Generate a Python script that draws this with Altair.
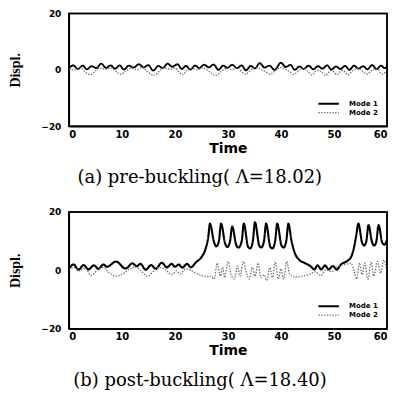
import altair as alt
import pandas as pd

# ---------------- (a) pre-buckling ----------------
T_A1 = [0, 0.8, 1.7, 2.6, 3.4, 4.3, 5.2, 6.1, 7.0, 7.9, 8.7, 9.6, 10.4, 11.3, 12.2, 13.2, 14.1, 15.0,
        15.9, 16.9, 17.7, 18.6, 19.5, 20.5, 21.3, 22.1, 22.9, 23.8, 24.6, 25.5, 26.4, 27.3, 28.2, 29.1,
        29.9, 30.8, 31.7, 32.6, 33.4, 34.3, 35.1, 36.0, 36.9, 37.8, 38.8, 40.0, 40.9, 41.8, 42.6, 43.5,
        44.3, 45.2, 46.1, 47.0, 47.8, 48.7, 49.5, 50.4, 51.2, 52.1, 52.9, 53.8, 54.6, 55.5, 56.3, 57.2,
        58.0, 58.9, 59.5, 60.0]
V_A1 = [0.4, 1.6, 0.3, 1.5, 0.2, 1.3, 0.6, 2.2, 0.7, 1.6, 0.4, 1.6, 0.1, 1.5, 0.8, 2.0, 0.9, 1.7,
        -0.3, 1.4, 0.6, 2.2, 1.1, 2.0, 0.3, 1.4, 0.1, 1.5, 0.6, 1.8, 0.9, 1.9, 0.0, 1.5,
        0.7, 1.8, 0.6, 1.6, -0.2, 1.4, 0.5, 2.4, 0.8, 1.5, 0.0, 2.5, 1.0, 1.8, 0.0, 1.2,
        0.3, 1.5, 0.2, 1.3, 0.4, 1.6, 0.1, 1.2, 0.3, 1.4, 0.0, 1.5, 0.4, 1.3, 0.2, 1.7,
        0.3, 1.5, 0.6, 1.2]

T_A2 = [0, 1.2, 2.2, 3.0, 4.0, 5.0, 5.8, 7.0, 8.0, 9.0, 9.8, 10.8, 11.8, 12.8, 13.8, 15.0, 16.0, 17.0,
        18.0, 19.0, 20.0, 20.8, 21.4, 22.3, 23.2, 24.3, 25.3, 26.6, 27.7, 28.8, 29.8, 30.8, 31.8, 32.6,
        33.3, 34.2, 35.2, 36.2, 37.2, 38.0, 39.0, 40.0, 41.0, 41.8, 42.4, 43.4, 44.4, 45.1, 45.8, 46.8,
        47.7, 48.4, 49.4, 50.0, 50.5, 51.5, 52.1, 52.6, 53.6, 54.6, 55.5, 56.2, 57.2, 58.2, 59.0, 60.0]
V_A2 = [0.5, 0.0, 0.8, -0.6, -1.7, -0.4, 0.6, 0.2, 0.7, -0.8, -1.6, -0.3, 0.6, 0.0, 0.8, -0.9, -2.0, -0.6,
        0.7, 0.2, 0.6, -0.8, -1.7, -0.2, 0.6, 0.0, 0.8, -0.8, -2.0, -0.5, 0.6, 0.1, 0.6, -0.7,
        -1.6, -0.3, 0.8, 0.2, -0.8, -1.6, -0.2, 0.8, 0.0, -0.9, -1.6, -0.2, 0.5, -0.6, -1.8, -0.2,
        -0.8, -2.0, -0.3, -0.8, -1.7, -0.2, -0.8, -1.8, -0.2, 0.5, -0.7, -1.5, -0.1, 0.4, -1.5, -0.3]

# ---------------- (b) post-buckling ----------------
T_B1 = [0, 0.9, 1.8, 2.8, 3.7, 4.7, 5.6, 6.5, 7.2, 8.9, 10.7, 12.0, 12.8, 13.5, 14.5, 15.5, 16.4, 17.5,
        18.5, 19.4, 20.0, 20.7, 21.4, 22.3, 23.0, 24.0, 25.0, 25.8, 26.3, 26.6, 27.4, 27.8, 28.3, 28.7,
        29.5, 29.9, 30.4, 30.8, 31.6, 32.0, 32.6, 33.0, 33.8, 34.2, 34.7, 35.1, 35.9, 36.3, 36.8, 37.2,
        38.0, 38.4, 38.9, 39.3, 40.1, 40.5, 41.0, 41.4, 42.0, 42.6, 43.5, 44.5, 45.5, 46.3, 46.9, 47.6,
        48.3, 49.0, 49.8, 50.5, 51.3, 52.3, 53.2, 53.8, 54.2, 54.6, 55.3, 55.7, 56.1, 56.5, 57.2, 57.6,
        58.0, 58.4, 59.1, 59.5, 60.0]
V_B1 = [0.5, 2.0, 0.2, 1.8, 0.3, 1.7, 0.5, 2.0, 1.2, 3.0, 0.6, 2.4, 1.4, 2.2, 0.2, 1.8, 0.5, 2.6,
        1.0, 2.2, 1.2, 2.0, 0.9, 2.2, 1.0, 2.8, 4.5, 7.5, 11.5, 16.0, 9.5, 8.2, 10.0, 16.0,
        9.0, 8.0, 10.0, 15.0, 8.5, 7.8, 10.0, 16.0, 8.0, 7.5, 10.0, 16.5, 8.5, 7.8, 10.0, 16.0,
        8.0, 7.5, 10.0, 16.0, 8.5, 7.8, 10.0, 16.0, 10.0, 6.0, 3.5, 2.5, 1.5, 0.3, 1.7, 0.3,
        1.7, 0.3, 1.5, 0.2, 2.0, 3.0, 4.5, 8.0, 12.0, 16.0, 9.5, 8.5, 10.0, 15.5, 9.5, 8.5,
        10.0, 15.5, 9.5, 8.8, 10.5]

T_B2 = [0, 1.0, 2.0, 3.0, 4.2, 5.5, 6.5, 7.6, 9.0, 10.4, 11.5, 12.5, 13.5, 14.8, 16.0, 17.0, 18.2, 19.4,
        20.3, 21.0, 22.0, 23.0, 24.0, 25.0, 26.0, 26.8, 27.4, 28.0, 28.6, 29.0, 29.4, 30.0, 30.6, 31.2,
        31.8, 32.3, 32.9, 33.5, 34.0, 34.6, 35.1, 35.7, 36.2, 36.8, 37.3, 37.9, 38.4, 38.9, 39.5, 40.0,
        40.5, 41.1, 41.6, 42.5, 44.0, 45.5, 46.5, 47.5, 48.5, 49.5, 50.5, 51.5, 52.5, 53.2, 53.8, 54.3,
        54.8, 55.3, 55.8, 56.4, 57.0, 57.5, 58.2, 58.8, 59.4, 60.0]
V_B2 = [0.3, 1.0, -0.2, 0.8, -1.8, 0.3, 1.0, -0.8, -2.0, -1.0, 0.5, 1.2, 0.0, -2.0, -0.3, 1.0, 0.2, -1.5,
        -0.2, -1.2, 0.5, 0.0, -1.0, -1.8, -2.2, -2.0, -3.0, 2.5, -2.0, 1.0, -2.5, 3.0, -1.5, -3.0,
        1.5, -2.0, 3.0, -1.0, -3.0, 1.0, -2.0, 2.5, -2.5, -1.5, -3.5, 1.0, -2.5, 3.0, -3.0, 0.5,
        -3.0, 3.0, -1.0, -2.3, -2.0, -1.3, -0.5, -1.8, 0.2, -0.5, 1.0, 1.8, 2.2, 2.5, -0.5, -3.0,
        2.5, -1.5, 2.5, -3.0, 3.0, -2.0, 3.0, -1.0, 3.5, 0.0]

MODES = ["Mode 1", "Mode 2"]
X_TICKS = [0, 10, 20, 30, 40, 50, 60]
Y_TICKS = [-20, 0, 20]
X_RANGE = [0, 60]
Y_RANGE = [-20, 20]
# corners of the plot frame (the axis range), walked round once
FRAME_T = [X_RANGE[0], X_RANGE[0], X_RANGE[1], X_RANGE[1], X_RANGE[0]]
FRAME_V = [Y_RANGE[0], Y_RANGE[1], Y_RANGE[1], Y_RANGE[0], Y_RANGE[0]]
CAPTION_A = "(a) pre-buckling( Λ=18.02)"
CAPTION_B = "(b) post-buckling( Λ=18.40)"

INK = "#000000"
GREY = "#6e6e6e"


def frame(t1, v1, t2, v2):
    return pd.concat([
        pd.DataFrame({"t": t1, "v": v1, "mode": MODES[0]}),
        pd.DataFrame({"t": t2, "v": v2, "mode": MODES[1]}),
    ], ignore_index=True)


BOX = pd.DataFrame({"t": FRAME_T, "v": FRAME_V, "k": list(range(len(FRAME_T)))})

TICK_FONT = "DejaVu Sans"
X_SCALE = alt.Scale(domain=X_RANGE, nice=False)
Y_SCALE = alt.Scale(domain=Y_RANGE, nice=False)


def panel(df, caption, w1, h):
    lines = alt.Chart(df).mark_line(interpolate="monotone").encode(
        x=alt.X("t:Q", scale=X_SCALE,
                axis=alt.Axis(values=X_TICKS, title="Time", grid=False, ticks=False,
                              domain=True, domainColor=INK, domainWidth=1.5,
                              labelFont=TICK_FONT, labelFontWeight="bold", labelFontSize=10,
                              labelPadding=3, titleFont=TICK_FONT, titleFontWeight="bold",
                              titleFontSize=14, titlePadding=2, labelColor=INK, titleColor=INK)),
        y=alt.Y("v:Q", scale=Y_SCALE,
                axis=alt.Axis(values=Y_TICKS, title="Displ.", grid=False, ticks=False,
                              domain=True, domainColor=INK, domainWidth=1.5,
                              labelFont=TICK_FONT, labelFontWeight="bold", labelFontSize=9,
                              labelPadding=8, titleFont="Liberation Sans Narrow", titleFontWeight="bold",
                              titleFontSize=14, titlePadding=18, labelColor=INK, titleColor=INK)),
        color=alt.Color("mode:N", scale=alt.Scale(domain=MODES, range=[INK, GREY]),
                        legend=alt.Legend(orient="bottom-right", title=None, symbolType="stroke",
                                          symbolSize=420, symbolStrokeWidth=1.6, clipHeight=9,
                                          labelFont=TICK_FONT, labelFontWeight="bold", labelFontSize=7,
                                          labelColor=INK, labelOffset=9, offset=9, padding=0,
                                          rowPadding=0)),
        strokeDash=alt.StrokeDash("mode:N", scale=alt.Scale(domain=MODES, range=[[1, 0], [1.4, 1.4]]),
                                  legend=alt.Legend(orient="bottom-right", title=None)),
        strokeWidth=alt.StrokeWidth("mode:N", scale=alt.Scale(domain=MODES, range=[w1, 1.3]), legend=None),
    )
    box = alt.Chart(BOX).mark_line(color=INK, strokeWidth=1.5).encode(
        x=alt.X("t:Q", scale=X_SCALE),
        y=alt.Y("v:Q", scale=Y_SCALE),
        order=alt.Order("k:Q"),
    )
    return alt.layer(lines, box).properties(
        width=319, height=h,
        title=alt.TitleParams(caption, orient="bottom", frame="bounds", anchor="middle",
                              font="DejaVu Serif", fontSize=18, fontWeight="normal",
                              color=INK, offset=14),
    )


top = panel(frame(T_A1, V_A1, T_A2, V_A2), CAPTION_A, 1.8, 113)
bottom = panel(frame(T_B1, V_B1, T_B2, V_B2), CAPTION_B, 2.1, 117)

chart = alt.vconcat(top, bottom, spacing=19).resolve_legend(
    color="independent", strokeDash="independent"
).resolve_scale(color="independent", strokeDash="independent", strokeWidth="independent").properties(
    padding=0, background="#ffffff"
).configure_view(stroke=INK, strokeWidth=1.5)

chart.save("out.html", embed_options={"renderer": "svg", "actions": False})
